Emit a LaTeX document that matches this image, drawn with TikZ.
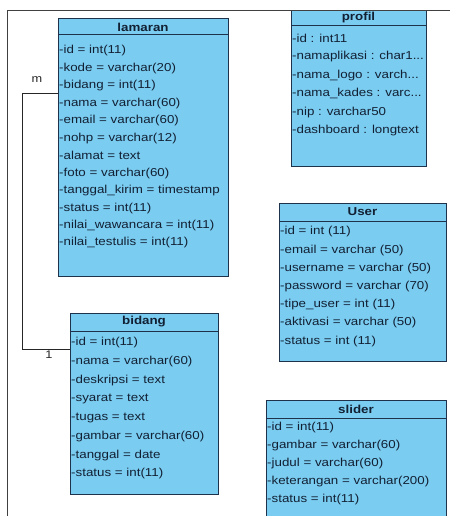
\documentclass[tikz,border=0pt]{standalone}
\usepackage{fontspec}
\setmainfont{Liberation Sans}[FakeStretch=1.16]
\definecolor{boxfill}{RGB}{122,204,240}
\definecolor{boxline}{RGB}{30,50,75}
\definecolor{txt}{RGB}{18,32,52}
\newcommand\trdots{...}
\begin{document}
\begin{tikzpicture}[x=1bp,y=-1bp,
  classbox/.style={draw=boxline, fill=boxfill, line width=1bp, anchor=north west, inner sep=0, outer sep=0, rectangle},
  sepline/.style={draw=boxline, line width=1bp},
  rowtext/.style={anchor=west, inner sep=0, text=txt, font=\fontsize{11.5bp}{13bp}\selectfont},
  titletext/.style={inner sep=0, text=txt, font=\fontsize{11.5bp}{13bp}\selectfont\bfseries},
  frameline/.style={draw=black!75, line width=1bp},
  link/.style={draw=black!85, line width=1bp},
  mult/.style={inner sep=0, text=black!85, font=\fontsize{11bp}{13bp}\selectfont}]
\clip (0,0) rectangle (450,516);
\fill[white] (0,0) rectangle (450,516);

% lamaran
\node[classbox, minimum width=170bp, minimum height=257bp] (lamaran) at (58,19) {};
\draw[sepline] ([yshift=-16bp]lamaran.north west) -- ([yshift=-16bp]lamaran.north east);
\node[titletext] (lamaranT) at (143,27) {lamaran};
\foreach \t [count=\i from 0] in {-id = int(11), -kode = varchar(20), -bidang = int(11), -nama = varchar(60), -email = varchar(60), -nohp = varchar(12), -alamat = text, -foto = varchar(60), -tanggal\_kirim = timestamp, -status = int(11), -nilai\_wawancara = int(11), -nilai\_testulis = int(11)}
  \node[rowtext] (lamaranR\i) at (59,51+\i*17.45) {\t};

% profil
\node[classbox, minimum width=135bp, minimum height=155bp] (profil) at (291,11) {};
\draw[sepline] ([yshift=-15bp]profil.north west) -- ([yshift=-15bp]profil.north east);
\node[titletext] (profilT) at (358.5,18) {profil};
\foreach \t [count=\i from 0] in {-id : int11, -namaplikasi : char1\trdots, -nama\_logo : varch\trdots, -nama\_kades : varc\trdots, -nip : varchar50, -dashboard : longtext}
  \node[rowtext] (profilR\i) at (292,38+\i*18.6) {\t};

% User
\node[classbox, minimum width=167bp, minimum height=158bp] (user) at (279,203) {};
\draw[sepline] ([yshift=-18bp]user.north west) -- ([yshift=-18bp]user.north east);
\node[titletext] (userT) at (362.5,212) {User};
\foreach \t [count=\i from 0] in {-id = int (11), -email = varchar (50), -username = varchar (50), -password = varchar (70), -tipe\_user = int (11), -aktivasi = varchar (50), -status = int (11)}
  \node[rowtext] (userR\i) at (280,232+\i*18.2) {\t};

% bidang
\node[classbox, minimum width=148bp, minimum height=181bp] (bidang) at (70,313) {};
\draw[sepline] ([yshift=-18bp]bidang.north west) -- ([yshift=-18bp]bidang.north east);
\node[titletext] (bidangT) at (144,322) {bidang};
\foreach \t [count=\i from 0] in {-id = int(11), -nama = varchar(60), -deskripsi = text, -syarat = text, -tugas = text, -gambar = varchar(60), -tanggal = date, -status = int(11)}
  \node[rowtext] (bidangR\i) at (71,343+\i*18.7) {\t};

% slider
\node[classbox, minimum width=180bp, minimum height=130bp] (slider) at (266,400) {};
\draw[sepline] ([yshift=-18bp]slider.north west) -- ([yshift=-18bp]slider.north east);
\node[titletext] (sliderT) at (356,409) {slider};
\foreach \t [count=\i from 0] in {-id = int(11), -gambar = varchar(60), -judul = varchar(60), -keterangan = varchar(200), -status = int(11)}
  \node[rowtext] (sliderR\i) at (267,428+\i*17.8) {\t};

% connector lamaran -- bidang
\coordinate (c1) at (22,94);
\coordinate (c2) at (22,349);
\draw[link] (lamaran.west |- c1) -- (c1) -- (c2) -- (bidang.west |- c2);
\node[mult] (multM) at (37,80) {m};
\node[mult] (mult1) at (49,355) {1};

% frame
\coordinate (f0) at (7,11);
\draw[frameline] (7,520) -- (f0) -- (455,11);
\end{tikzpicture}
\end{document}
